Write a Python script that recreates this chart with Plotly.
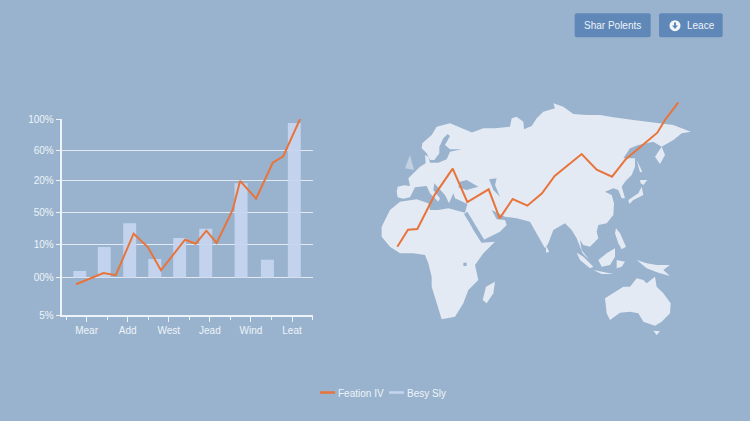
import plotly.graph_objects as go

W, H = 750, 421
BG = "#99b3ce"
LAND = "#e4eaf3"
ORANGE = "#e8743b"
BAR = "#c6d5ee"
TEXT = "#eef3f8"
BTN = "#5f88b8"
FONT = "Liberation Sans"

# chart values
x_labels = ["Mear", "Add", "West", "Jead", "Wind", "Leat"]
x_label_pos = [1, 3, 5, 7, 9, 11]
x_minor_pos = [0, 2, 4, 6, 8, 10, 12]
y_labels = ["100%", "60%", "20%", "50%", "10%", "00%", "5%"]
y_label_pos = [100, 80.4, 60.9, 41.3, 21.1, 0, -23.7]

bar_x = [0.67, 1.86, 3.1, 4.32, 5.53, 6.8, 8.52, 9.8, 11.11]
bar_y = [4.1, 19.2, 34.2, 11.7, 24.9, 30.8, 59.4, 11.2, 97.5]
line_x = [0.49, 1.09, 1.82, 2.42, 3.29, 3.98, 4.62, 5.79, 6.31, 6.83, 7.33, 8.11, 8.47, 9.25, 10.06, 10.57, 11.39]
line_y = [-4.3, -0.9, 2.8, 1.4, 27.6, 19.2, 4.5, 23.8, 21.3, 29.5, 21.8, 42.6, 60.9, 49.7, 72.4, 76.5, 100]

# map outlines and route
eurasia = [(53, 322), (50, 305), (53, 290), (72, 286), (90, 288), (85, 265), (95, 255), (120, 230), (137, 220), (135, 195), (145, 200),
           (150, 218), (175, 218), (200, 208), (210, 185), (245, 178), (210, 178), (195, 165), (210, 138), (203, 132),
           (190, 145), (178, 170), (178, 190), (163, 210), (150, 210), (140, 190), (125, 175), (127, 160), (155, 135),
           (170, 110), (210, 100), (245, 115), (278, 128), (263, 142), (240, 140), (290, 122), (310, 115), (345, 115),
           (390, 110), (395, 85), (410, 80), (430, 95), (432, 118), (455, 108), (470, 85), (490, 65), (525, 55),
           (520, 40), (550, 50), (580, 72), (620, 75), (660, 75), (700, 82), (760, 90), (800, 95), (835, 100),
           (880, 105), (932, 125), (905, 130), (880, 150), (855, 165), (845, 170), (855, 195), (840, 222), (825, 200),
           (845, 170), (820, 155), (775, 165), (750, 175), (730, 205), (765, 205), (765, 230), (755, 255), (735, 275),
           (725, 290), (735, 325), (725, 325), (715, 300), (700, 295), (675, 305), (695, 315), (702, 340), (700, 375),
           (680, 400), (655, 405), (650, 425), (655, 445), (630, 470), (610, 465), (600, 450), (605, 480), (628, 510),
           (608, 490), (590, 445), (575, 420), (555, 400), (520, 420), (505, 460), (495, 475), (470, 430), (450, 395),
           (410, 385), (375, 380), (335, 360), (350, 388), (375, 390), (380, 405), (360, 425), (310, 450), (280, 405),
           (255, 368), (262, 342), (225, 325), (220, 310), (207, 340), (195, 315), (163, 280), (160, 300), (180, 325),
           (175, 335), (150, 310), (140, 288), (105, 292), (90, 322), (70, 326)]
africa = [(5, 410), (30, 360), (60, 335), (110, 328), (145, 340), (150, 360), (175, 360), (205, 355), (255, 368),
          (280, 420), (305, 458), (345, 455), (310, 490), (285, 525), (295, 570), (265, 600), (250, 640), (225, 680),
          (185, 688), (170, 640), (155, 590), (155, 560), (145, 520), (135, 495), (100, 490), (60, 490), (30, 470),
          (5, 440)]
australia = [(675, 625), (700, 610), (730, 590), (750, 590), (770, 565), (790, 570), (800, 580), (825, 560), (830, 590),
             (850, 610), (872, 640), (870, 670), (845, 695), (825, 707), (790, 695), (775, 670), (750, 665), (720, 668),
             (690, 690), (680, 670)]
madagascar = [(345, 575), (340, 610), (320, 640), (308, 630), (318, 590)]
hokkaido = [(780, 270), (802, 270), (790, 285), (782, 280)]
honshu = [(785, 290), (790, 315), (760, 330), (748, 342), (745, 330), (775, 310)]
sakhalin = [(770, 210), (787, 245), (780, 247)]
sumatra = [(590, 488), (610, 500), (640, 530), (630, 535), (600, 510)]
java = [(640, 540), (700, 552), (665, 552)]
borneo = [(655, 510), (680, 490), (705, 475), (705, 500), (690, 525), (665, 530)]
sulawesi = [(710, 510), (735, 515), (725, 530), (710, 535)]
new_guinea = [(770, 510), (800, 520), (830, 525), (870, 525), (850, 540), (870, 558), (835, 548), (800, 535)]
philippines = [(708, 415), (720, 430), (738, 470), (725, 478), (715, 460), (705, 430)]
sri_lanka = [(498, 468), (508, 485), (498, 488)]
tasmania = [(820, 722), (840, 724), (830, 735)]
britain = [(75, 235), (90, 195), (102, 240)]
black_sea = [(240, 275), (260, 270), (295, 290), (260, 300), (235, 292)]
caspian = [(327, 268), (350, 265), (345, 285), (360, 320), (340, 300)]
red_sea = [(262, 365), (312, 448), (305, 458), (252, 372)]
lake_victoria = [(250, 518), (260, 518), (260, 528), (250, 528)]
route_x = [52, 84, 112, 150, 165, 218, 262, 326, 359, 398, 442, 486, 524, 605, 650, 696, 738, 780, 832, 855, 895]
route_y = [470, 419, 417, 345, 313, 236, 336, 298, 385, 327, 347, 310, 258, 192, 239, 260, 207, 172, 128, 90, 37]

land_parts = [eurasia, africa, australia, madagascar, hokkaido, honshu, sakhalin, sumatra, java, borneo, sulawesi,
              new_guinea, philippines, sri_lanka, tasmania]
sea_parts = [black_sea, caspian, red_sea, lake_victoria]


def px(x):
    return x / W


def py(y):
    return 1 - y / H


def button(x0, y0, x1, y1, r=2):
    return dict(type="path", xref="paper", yref="paper", fillcolor=BTN, line_width=0, layer="above",
                path=f"M{px(x0 + r)},{py(y0)} L{px(x1 - r)},{py(y0)} Q{px(x1)},{py(y0)} {px(x1)},{py(y0 + r)} "
                     f"L{px(x1)},{py(y1 - r)} Q{px(x1)},{py(y1)} {px(x1 - r)},{py(y1)} "
                     f"L{px(x0 + r)},{py(y1)} Q{px(x0)},{py(y1)} {px(x0)},{py(y1 - r)} "
                     f"L{px(x0)},{py(y0 + r)} Q{px(x0)},{py(y0)} {px(x0 + r)},{py(y0)} Z")


def label(text, x, y, anchor="center", size=10):
    return dict(text=text, xref="paper", yref="paper", x=px(x), y=py(y), xanchor=anchor, yanchor="middle",
                showarrow=False, font=dict(family=FONT, size=size, color=TEXT))


def swatch(x0, x1, y, color):
    return dict(type="line", xref="paper", yref="paper", x0=px(x0), x1=px(x1), y0=py(y), y1=py(y),
                line=dict(color=color, width=2.5))


fig = go.Figure()

# map sits on its own axes
for part, color in [(p, LAND) for p in land_parts] + [(p, BG) for p in sea_parts] + [(britain, "#c2d0e1")]:
    fig.add_trace(go.Scatter(x=[p[0] for p in part], y=[p[1] for p in part], fill="toself", fillcolor=color,
                             mode="lines", line=dict(width=0, color=color), hoverinfo="skip", showlegend=False,
                             xaxis="x2", yaxis="y2"))
fig.add_trace(go.Scatter(x=route_x, y=route_y, mode="lines", line=dict(color=ORANGE, width=2), showlegend=False,
                         xaxis="x2", yaxis="y2"))

fig.add_trace(go.Bar(x=bar_x, y=bar_y, width=0.63, marker=dict(color=BAR, opacity=0.95, line_width=0), name="Besy Sly",
                     showlegend=False, xaxis="x", yaxis="y"))
fig.add_trace(go.Scatter(x=line_x, y=line_y, mode="lines", line=dict(color=ORANGE, width=2), name="Feation IV",
                         showlegend=False, xaxis="x", yaxis="y", cliponaxis=False))

fig.update_layout(
    width=W, height=H, margin=dict(l=0, r=0, t=0, b=0),
    paper_bgcolor=BG, plot_bgcolor="rgba(0,0,0,0)", showlegend=False,
    font=dict(family=FONT, size=10, color=TEXT),
    xaxis=dict(domain=[px(61.5), px(313)], range=[-0.22, 12.02], tickmode="array", tickvals=x_label_pos,
               ticktext=x_labels, ticks="outside", ticklen=5, tickwidth=1.2, tickcolor=TEXT, showgrid=False,
               zeroline=False, showline=True, linecolor=TEXT, linewidth=1.5, automargin=False,
               minor=dict(tickmode="array", tickvals=x_minor_pos, ticks="outside", ticklen=3, tickwidth=1.2,
                          tickcolor=TEXT, showgrid=False)),
    yaxis=dict(domain=[py(315), py(119)], range=[-23.7, 100], tickmode="array", tickvals=y_label_pos,
               ticktext=y_labels, ticks="outside", ticklen=4, tickwidth=1, tickcolor=TEXT, showgrid=True,
               gridcolor="#e2e9f2", gridwidth=1.3, zeroline=False, showline=True, linecolor=TEXT, linewidth=1.5,
               automargin=False),
    xaxis2=dict(domain=[px(380), px(710)], range=[0, 990], visible=False, anchor="y2", automargin=False),
    yaxis2=dict(domain=[py(340), py(90)], range=[750, 0], visible=False, anchor="x2", automargin=False),
    shapes=[
        button(574.7, 13.3, 650.7, 37.3),
        button(659, 13.3, 722.7, 37.3),
        dict(type="circle", xref="paper", yref="paper", x0=px(669.5), x1=px(680.5), y0=py(31.2), y1=py(20.2),
             fillcolor="#f3f6fa", line_width=0, layer="above"),
        dict(type="path", xref="paper", yref="paper", fillcolor=BTN, line_width=0, layer="above",
             path=f"M{px(674)},{py(22.5)} L{px(676)},{py(22.5)} L{px(676)},{py(25.5)} L{px(678)},{py(25.5)} "
                  f"L{px(675)},{py(29)} L{px(672)},{py(25.5)} L{px(674)},{py(25.5)} Z"),
        swatch(320, 335, 392.5, ORANGE),
        swatch(389, 404, 392.5, BAR),
    ],
    annotations=[
        label("Shar Polents", 612, 25.5),
        label("Leace", 700.5, 25.5),
        label("Feation IV", 335.5, 393, "left"),
        label("Besy Sly", 404.5, 393, "left"),
    ],
)

fig.write_html("out.html", config={"displayModeBar": False}, post_script="document.body.style.margin='0';")
